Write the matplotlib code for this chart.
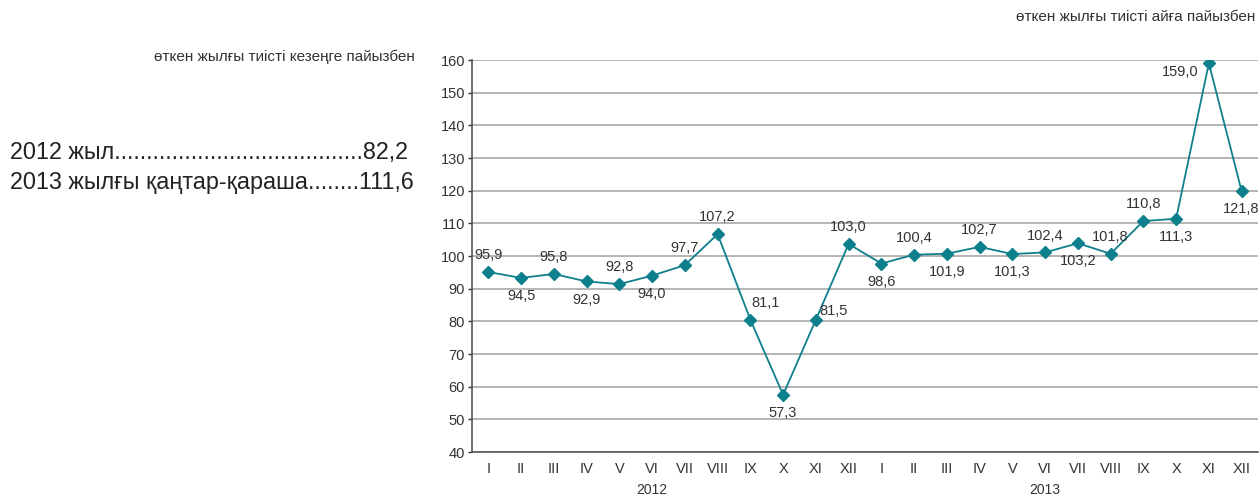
import matplotlib
matplotlib.use("Agg")
import matplotlib.pyplot as plt
import numpy as np

plt.rcParams['font.family'] = ['Liberation Sans', 'DejaVu Sans']

# --- data ---
months = ["I", "II", "III", "IV", "V", "VI", "VII", "VIII", "IX", "X", "XI", "XII",
          "I", "II", "III", "IV", "V", "VI", "VII", "VIII", "IX", "X", "XI", "XII"]
years = ["2012", "2013"]
# point heights as drawn in the reference
values = [95.1, 93.3, 94.5, 92.2, 91.4, 94.0, 97.2, 106.7, 80.5, 57.5, 80.5, 103.7,
          97.7, 100.4, 100.7, 102.8, 100.6, 101.1, 103.9, 100.7, 110.7, 111.4, 159.0, 119.9]
# printed data labels
labels = ["95,9", "94,5", "95,8", "92,9", "92,8", "94,0", "97,7", "107,2", "81,1", "57,3", "81,5", "103,0",
          "98,6", "100,4", "101,9", "102,7", "101,3", "102,4", "103,2", "101,8", "110,8", "111,3", "159,0", "121,8"]
summary_lines = ["2012 жыл.......................................82,2",
                 "2013 жылғы қаңтар-қараша........111,6"]

# label offsets in points (dx, dy)
offsets = [(0, 12), (0, -13), (0, 12), (0, -13), (0, 12), (0, -13), (0, 12), (0, 12),
           (11, 12), (0, -13), (13, 6), (0, 12),
           (0, -13), (0, 12), (0, -13), (0, 12), (0, -13), (0, 12), (0, -13), (0, 12),
           (0, 12), (0, -13), (-21, -6), (0, -13)]

teal = '#0E7F8C'
text_c = '#333333'

fig = plt.figure(figsize=(12.6, 4.96), dpi=100)
ax = fig.add_axes([0.3746, 0.0887, 0.6238, 0.7903])

x = np.arange(len(values))
ax.plot(x, values, color=teal, lw=1.3, marker='D', markersize=6.5, zorder=3)

for xi, v, lab, (dx, dy) in zip(x, values, labels, offsets):
    ax.annotate(lab, (xi, v), xytext=(dx, dy), textcoords='offset points',
                ha='center', va='center', fontsize=10.5, color=text_c)

ax.set_xlim(-0.5, len(values) - 0.5)
ax.set_ylim(40, 160)
ax.set_yticks(np.arange(40, 161, 10))
ax.set_xticks(x)
ax.set_xticklabels(months)
ax.tick_params(axis='x', length=0, pad=7, labelsize=10.5, colors=text_c)
ax.tick_params(axis='y', length=3, width=1, pad=2, labelsize=10.5, colors=text_c)
ax.yaxis.grid(True, color='#a8a8a8', lw=1.2)
ax.set_axisbelow(True)
for s in ['top', 'right']:
    ax.spines[s].set_visible(False)
for s in ['left', 'bottom']:
    ax.spines[s].set_color('#555555')
    ax.spines[s].set_linewidth(1.2)

# year labels under months
for i, yr in enumerate(years):
    ax.annotate(yr, (5 + 12 * i, 0), xycoords=('data', 'axes fraction'),
                xytext=(0, -27), textcoords='offset points',
                ha='center', va='center', fontsize=10, color=text_c)

fig.text(1255 / 1260, 1 - 17 / 496, "өткен жылғы тиісті айға пайызбен",
         ha='right', va='center', fontsize=11, color=text_c)
fig.text(415 / 1260, 1 - 57 / 496, "өткен жылғы тиісті кезеңге пайызбен",
         ha='right', va='center', fontsize=11, color=text_c)
fig.text(10 / 1260, 1 - 153 / 496, summary_lines[0],
         ha='left', va='center', fontsize=16.8, color='#222222')
fig.text(10 / 1260, 1 - 183 / 496, summary_lines[1],
         ha='left', va='center', fontsize=16.8, color='#222222')

fig.savefig('out.png', dpi=100)
